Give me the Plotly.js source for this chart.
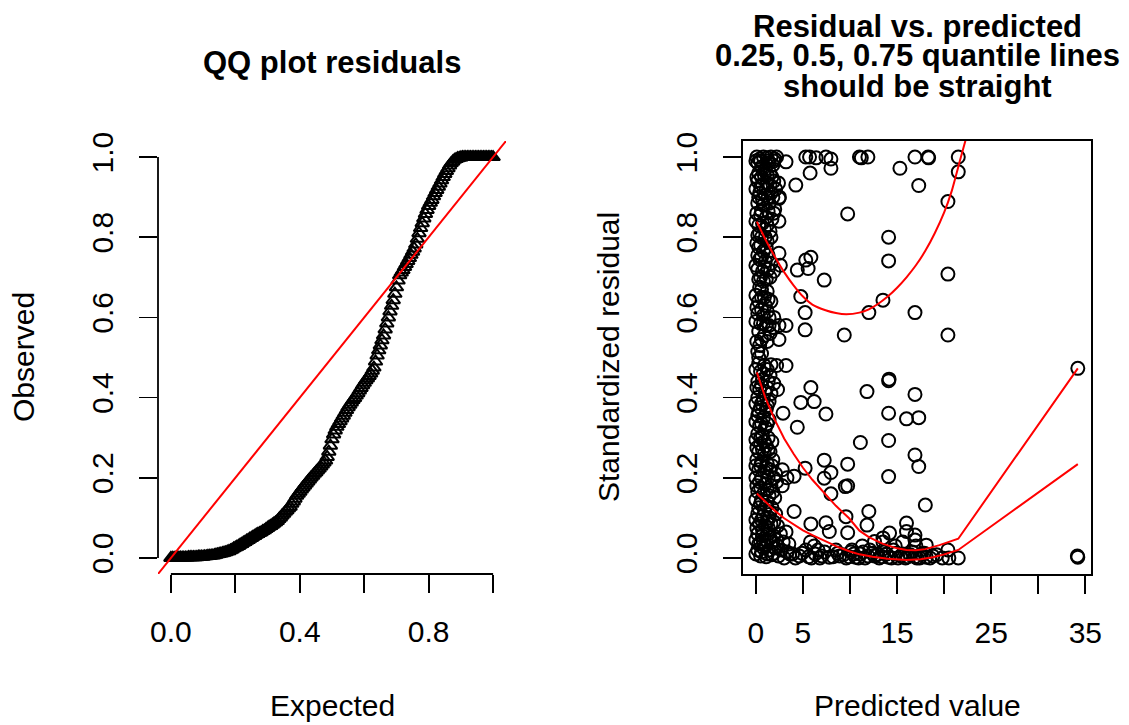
<!DOCTYPE html>
<html><head><meta charset="utf-8">
<script src="https://cdn.plot.ly/plotly-3.0.1.min.js"></script>
<style>html,body{margin:0;padding:0;background:#fff}#chart{width:1129px;height:725px}</style>
</head><body><div id="chart"></div>
<script>
// ---------- QQ plot data ----------
var qqExpected = [0.000,0.005,0.010,0.015,0.020,0.025,0.030,0.035,0.040,0.045,0.050,0.055,0.060,0.065,0.070,0.075,0.080,0.085,0.090,0.095,
0.100,0.105,0.110,0.115,0.120,0.125,0.130,0.135,0.140,0.145,0.150,0.155,0.160,0.165,0.170,0.175,0.180,0.185,0.190,0.195,
0.200,0.205,0.210,0.215,0.220,0.225,0.230,0.235,0.240,0.245,0.250,0.255,0.260,0.265,0.270,0.275,0.280,0.285,0.290,0.295,
0.300,0.305,0.310,0.315,0.320,0.325,0.330,0.335,0.340,0.345,0.350,0.355,0.360,0.365,0.370,0.375,0.380,0.385,0.390,0.395,
0.400,0.405,0.410,0.415,0.420,0.425,0.430,0.435,0.440,0.445,0.450,0.455,0.460,0.465,0.470,0.475,0.480,0.485,0.490,0.495,
0.500,0.505,0.510,0.515,0.520,0.525,0.530,0.535,0.540,0.545,0.550,0.555,0.560,0.565,0.570,0.575,0.580,0.585,0.590,0.595,
0.600,0.605,0.610,0.615,0.620,0.625,0.630,0.635,0.640,0.645,0.650,0.655,0.660,0.665,0.670,0.675,0.680,0.685,0.690,0.695,
0.700,0.705,0.710,0.715,0.720,0.725,0.730,0.735,0.740,0.745,0.750,0.755,0.760,0.765,0.770,0.775,0.780,0.785,0.790,0.795,
0.800,0.805,0.810,0.815,0.820,0.825,0.830,0.835,0.840,0.845,0.850,0.855,0.860,0.865,0.870,0.875,0.880,0.885,0.890,0.895,
0.900,0.905,0.910,0.915,0.920,0.925,0.930,0.935,0.940,0.945,0.950,0.955,0.960,0.965,0.970,0.975,0.980,0.985,0.990,0.995,1.000];
var qqObserved = [0.000,0.000,0.000,0.000,0.000,0.001,0.001,0.001,0.001,0.001,0.001,0.002,0.002,0.002,0.002,0.002,0.002,0.003,0.003,0.003,
0.003,0.004,0.004,0.005,0.005,0.006,0.006,0.007,0.008,0.009,0.010,0.011,0.012,0.013,0.014,0.016,0.017,0.019,0.021,0.024,
0.026,0.028,0.030,0.033,0.035,0.038,0.040,0.043,0.045,0.048,0.050,0.053,0.055,0.058,0.060,0.062,0.064,0.067,0.069,0.072,
0.075,0.078,0.080,0.083,0.086,0.089,0.092,0.097,0.101,0.106,0.110,0.115,0.119,0.124,0.128,0.135,0.141,0.148,0.155,0.160,
0.165,0.171,0.176,0.181,0.186,0.191,0.196,0.201,0.205,0.210,0.214,0.219,0.223,0.228,0.233,0.238,0.243,0.252,0.265,0.280,
0.296,0.308,0.318,0.327,0.334,0.341,0.348,0.355,0.362,0.369,0.376,0.382,0.388,0.394,0.399,0.405,0.411,0.418,0.424,0.431,
0.437,0.443,0.448,0.454,0.460,0.467,0.475,0.490,0.505,0.518,0.530,0.543,0.555,0.570,0.585,0.600,0.615,0.629,0.643,0.659,
0.675,0.692,0.705,0.712,0.718,0.726,0.733,0.741,0.748,0.756,0.764,0.772,0.782,0.796,0.810,0.823,0.835,0.847,0.858,0.868,
0.878,0.886,0.893,0.902,0.910,0.918,0.926,0.934,0.942,0.950,0.958,0.965,0.972,0.979,0.985,0.989,0.993,0.995,0.997,0.998,
0.999,1.000,1.000,1.000,1.000,1.000,1.000,1.000,1.000,1.000,1.000,1.000,1.000,1.000,1.000,1.000,1.000,1.000,1.000,1.000,1.000];
var qqLineEnds = [-0.04, 1.04];
var qqXTickVals = [0, 0.2, 0.4, 0.6, 0.8, 1.0];
var qqXTickText = ['0.0', '', '0.4', '', '0.8', ''];
var yTickVals = [0, 0.2, 0.4, 0.6, 0.8, 1.0];
var yTickText = ['0.0', '0.2', '0.4', '0.6', '0.8', '1.0'];

// ---------- Residual vs predicted data ----------
var predX = [0.1,0.4,0.8,1.2,1.6,2.0,0.2,0.6,1.0,1.4,1.8,0.3,0.9,1.5,0.2,0.7,1.2,1.9,0.4,1.0,1.6,0.2,0.8,1.4,2.0,2.5,2.4,0.5,1.1,1.7,0.3,0.9,1.5,2.45,0.6,1.2,0.2,0.3,0.8,2.45,0.4,1.0,1.6,0.2,0.7,1.3,1.9,2.6,0.5,1.1,0.6,1.2,0.9,0.3,1.0,1.6,0.2,0.8,1.4,0.5,1.1,1.8,2.45,3.2,0.3,0.9,1.5,2.45,0.4,0.6,0.3,0.3,0.9,1.6,2.2,3.2,0.5,1.2,0.2,0.7,1.3,1.9,0.4,1.0,1.6,2.3,0.2,0.8,1.4,0.5,1.1,0.2,0.8,1.4,0.4,1.0,0.2,0.7,1.3,0.5,1.1,1.7,0.3,0.9,1.5,0.1,0.6,1.2,1.8,0.3,0.9,1.5,2.1,2.8,3.3,4.06,0.4,1.0,1.6,2.2,0.2,0.8,1.4,2.0,0.5,1.1,1.7,0.2,0.8,1.4,2.1,0.4,1.0,1.6,2.3,0.2,0.7,1.3,1.9,2.6,3.2,0.5,1.1,1.8,0.2,0.8,1.4,2.0,2.7,3.3,0.5,1.1,1.7,2.4,3.0,3.6,
0.0,0.5,1.3,1.9,2.2,0.1,0.6,1.2,1.7,0.0,0.5,1.1,1.5,2.1,0.3,0.7,1.3,1.8,0.1,0.6,1.3,1.9,0.0,0.7,1.2,0.4,1.0,1.6,0.1,0.5,1.1,0.2,0.6,1.3,0.0,0.9,0.3,0.8,1.5,0.4,0.0,0.6,1.3,0.1,0.6,1.2,1.9,0.0,0.8,1.4,0.6,1.2,0.1,0.2,0.0,0.8,1.5,0.1,0.6,1.2,0.0,0.6,1.2,0.3,0.0,0.6,1.2,0.0,0.5,0.9,0.1,0.7,1.3,0.0,0.5,1.1,1.7,0.0,0.6,1.3,1.9,0.1,0.5,1.2,1.8,0.0,0.6,1.2,0.3,0.9,1.5,0.0,0.6,1.2,1.9,0.1,0.7,1.3,0.0,0.8,1.5,2.2,0.3,1.0,0.0,0.6,1.2,1.9,2.3,2.9,3.5,
3.2,5.3,5.7,6.4,5.76,7.44,7.97,7.97,11.0,11.2,11.9,15.3,16.9,18.3,18.35,21.5,21.5,4.24,17.3,20.4,9.75,14.1,14.1,20.4,2.45,4.4,5.3,5.84,5.55,7.26,4.77,5.23,5.23,9.39,12.0,13.5,16.9,20.4,
34.2,34.2,34.15,14.1,14.15,11.8,16.9,14.1,16.0,17.3,11.1,14.1,16.9,17.3,14.1,18.0,5.84,4.77,6.19,7.44,2.88,4.4,7.26,7.97,7.26,9.75,9.5,9.75,7.97,5.23,4.06,5.84,7.44,7.8,9.57,9.75,12.0,11.8,14.2,16.0,16.0,16.9,18.1,20.4,21.5,20.5,12.6,13.5,15.6,16.9,2.8,
3.9,4.6,5.3,5.8,5.6,6.3,6.8,7.3,7.8,8.5,8.9,9.6,10.1,10.6,11.1,11.6,12.1,12.6,13.1,13.6,14.1,14.6,15.1,15.6,16.1,16.6,17.1,17.6,18.1,18.8,13.5,10.2,11.3,14.8,17.0,6.2,
4.2,4.9,5.9,6.6,7.0,8.2,8.7,9.3,9.9,10.4,10.9,11.4,11.9,12.4,12.9,13.4,13.9,14.4,14.9,15.4,15.9,16.4,16.9,17.4,17.9,18.5,19.2,19.8];
var resY = [1.0,0.995,1.0,0.998,1.0,0.995,0.985,0.975,0.97,0.985,0.98,0.96,0.955,0.96,0.94,0.93,0.935,0.94,0.91,0.905,0.91,0.885,0.88,0.885,0.87,0.9,0.935,0.855,0.85,0.845,0.83,0.82,0.815,0.84,0.8,0.79,0.805,0.775,0.765,0.76,0.745,0.74,0.735,0.72,0.715,0.72,0.715,0.73,0.7,0.695,0.67,0.665,0.65,0.64,0.63,0.64,0.61,0.605,0.6,0.585,0.58,0.575,0.58,0.58,0.565,0.555,0.56,0.545,0.53,0.51,0.5,0.485,0.48,0.482,0.48,0.48,0.465,0.47,0.44,0.445,0.44,0.435,0.42,0.415,0.41,0.42,0.4,0.395,0.39,0.375,0.37,0.355,0.35,0.345,0.33,0.325,0.31,0.305,0.3,0.285,0.28,0.29,0.265,0.26,0.265,0.245,0.24,0.235,0.245,0.22,0.215,0.22,0.21,0.22,0.2,0.204,0.19,0.185,0.18,0.19,0.165,0.16,0.155,0.15,0.135,0.13,0.125,0.11,0.105,0.1,0.11,0.085,0.08,0.085,0.08,0.06,0.055,0.06,0.055,0.06,0.065,0.04,0.045,0.04,0.02,0.025,0.02,0.025,0.02,0.015,0.005,0.003,0.008,0.005,0.0,0.01,
0.99,0.99,0.99,0.99,1.0,0.95,0.95,0.955,0.95,0.92,0.925,0.92,0.93,0.92,0.9,0.895,0.9,0.9,0.86,0.865,0.865,0.86,0.84,0.835,0.83,0.81,0.8,0.8,0.785,0.78,0.775,0.755,0.75,0.755,0.73,0.725,0.695,0.69,0.7,0.675,0.655,0.65,0.645,0.625,0.62,0.615,0.6,0.59,0.585,0.58,0.545,0.54,0.54,0.515,0.47,0.46,0.455,0.425,0.43,0.425,0.385,0.385,0.38,0.365,0.34,0.335,0.335,0.295,0.3,0.29,0.275,0.27,0.27,0.23,0.23,0.225,0.23,0.2,0.2,0.2,0.2,0.18,0.175,0.17,0.165,0.145,0.145,0.14,0.125,0.12,0.115,0.095,0.095,0.09,0.09,0.075,0.07,0.075,0.045,0.04,0.05,0.045,0.035,0.03,0.01,0.015,0.01,0.012,0.03,0.04,0.035,
0.988,1.0,1.0,0.998,0.96,1.0,0.995,0.972,1.0,0.998,1.0,0.972,1.0,1.0,0.998,1.0,0.963,0.93,0.929,0.889,0.858,0.8,0.741,0.708,0.897,0.718,0.743,0.75,0.722,0.693,0.652,0.612,0.569,0.556,0.612,0.643,0.612,0.556,
0.473,0.002,0.005,0.442,0.446,0.415,0.408,0.361,0.347,0.35,0.288,0.293,0.257,0.228,0.203,0.132,0.425,0.388,0.39,0.359,0.361,0.326,0.244,0.213,0.199,0.234,0.178,0.18,0.16,0.224,0.116,0.085,0.088,0.066,0.103,0.063,0.116,0.082,0.062,0.087,0.066,0.057,0.032,0.02,0.0,0.0,0.041,0.05,0.04,0.045,0.18,
0.01,0.005,0.02,0.04,0.003,0.01,0.0,0.015,0.002,0.02,0.005,0.0,0.015,0.002,0.01,0.0,0.02,0.005,0.0,0.015,0.002,0.02,0.0,0.01,0.003,0.015,0.0,0.01,0.002,0.005,0.04,0.02,0.03,0.03,0.03,0.03,
0.0,0.012,0.0,0.02,0.005,0.003,0.012,0.008,0.003,0.01,0.0,0.015,0.005,0.012,0.008,0.003,0.01,0.0,0.012,0.005,0.0,0.008,0.003,0.0,0.012,0.0,0.008,0.0];

var q25X = [0.1,1,2,3,4,5,6,7.4,8.86,10,11,12.4,14,16,17.5,18.8,20,21.5,34.2];
var q25Y = [0.161,0.14,0.118,0.099,0.083,0.069,0.057,0.042,0.026,0.016,0.009,0.003,-0.002,-0.005,-0.003,0.002,0.009,0.02,0.234];
var q50X = [0.1,1,2,3,4,5,6,7.4,8.5,9.9,11,12,13.5,15,16,17,18,19.5,20.5,21.5,34.2];
var q50Y = [0.463,0.4,0.345,0.298,0.26,0.225,0.195,0.158,0.13,0.099,0.068,0.052,0.035,0.024,0.02,0.019,0.022,0.032,0.04,0.048,0.473];
var q75X = [0.1,1,2,3,4,5,6,7.4,8.5,9.6,11,12,13,14,15,16,17,18,19,20,20.8,21.7,22.6];
var q75Y = [0.839,0.795,0.752,0.713,0.68,0.652,0.632,0.618,0.611,0.608,0.612,0.62,0.634,0.652,0.674,0.70,0.73,0.766,0.81,0.862,0.915,0.993,1.07];
var rvXTickVals = [0,5,10,15,20,25,30,35];
var rvXTickText = ['0','5','','15','','25','','35'];

// ---------- layout helpers ----------
var W = 1129, H = 725;
function px(x){ return x / W; }
function py(y){ return 1 - y / H; }
var FONT = 'Liberation Sans, Arial, Helvetica, sans-serif';
var TF = {family: FONT, size: 30, color: '#000'};
var LW = 1.8;

var commonAxis = {
  ticks: 'outside', ticklen: 18, tickwidth: LW, tickcolor: '#000',
  showgrid: false, zeroline: false, tickfont: TF, fixedrange: true
};

var traces = [
  {x: qqExpected, y: qqObserved, xaxis: 'x', yaxis: 'y', type: 'scatter', mode: 'markers',
   marker: {symbol: 'triangle-up-open', size: 12, color: '#000', line: {color: '#000', width: 2}},
   hoverinfo: 'skip'},
  {x: qqLineEnds, y: qqLineEnds, xaxis: 'x', yaxis: 'y', type: 'scatter', mode: 'lines',
   line: {color: '#ff0000', width: 2}, hoverinfo: 'skip'},
  {x: predX, y: resY, xaxis: 'x2', yaxis: 'y2', type: 'scatter', mode: 'markers',
   marker: {symbol: 'circle-open', size: 13, color: '#000', line: {color: '#000', width: 2}},
   hoverinfo: 'skip'},
  {x: q25X, y: q25Y, xaxis: 'x2', yaxis: 'y2', type: 'scatter', mode: 'lines',
   line: {color: '#ff0000', width: 2}, hoverinfo: 'skip'},
  {x: q50X, y: q50Y, xaxis: 'x2', yaxis: 'y2', type: 'scatter', mode: 'lines',
   line: {color: '#ff0000', width: 2}, hoverinfo: 'skip'},
  {x: q75X, y: q75Y, xaxis: 'x2', yaxis: 'y2', type: 'scatter', mode: 'lines',
   line: {color: '#ff0000', width: 2, shape: 'spline', smoothing: 0.5}, hoverinfo: 'skip'}
];

var yDom = [py(574), py(141)];

var layout = {
  width: W, height: H,
  margin: {l: 0, r: 0, t: 0, b: 0, pad: 0},
  paper_bgcolor: '#fff', plot_bgcolor: 'rgba(0,0,0,0)',
  showlegend: false,
  font: {family: FONT, size: 30, color: '#000'},
  xaxis: Object.assign({}, commonAxis, {domain: [px(158), px(506)], range: [-0.04, 1.04],
    tickmode: 'array', tickvals: qqXTickVals, ticktext: qqXTickText, showline: false, anchor: 'y',
    ticklabelstandoff: 13}),
  yaxis: Object.assign({}, commonAxis, {domain: yDom, range: [-0.04, 1.04],
    tickmode: 'array', tickvals: yTickVals, ticktext: yTickText, tickangle: -90, showline: false, anchor: 'x',
    ticklabelstandoff: 14}),
  xaxis2: Object.assign({}, commonAxis, {domain: [px(743), px(1091)], range: [-1.37, 35.6],
    tickmode: 'array', tickvals: rvXTickVals, ticktext: rvXTickText,
    showline: true, mirror: true, linecolor: '#000', linewidth: LW, anchor: 'y2',
    ticklabelstandoff: 13}),
  yaxis2: Object.assign({}, commonAxis, {domain: yDom, range: [-0.04, 1.04],
    tickmode: 'array', tickvals: yTickVals, ticktext: yTickText, tickangle: -90,
    showline: true, mirror: true, linecolor: '#000', linewidth: LW, anchor: 'x2',
    ticklabelstandoff: 14}),
  shapes: [
    {type: 'line', xref: 'x', yref: 'y domain', x0: qqXTickVals[0], x1: qqXTickVals[qqXTickVals.length - 1],
     y0: 0, y1: 0, line: {color: '#000', width: LW}},
    {type: 'line', xref: 'x domain', yref: 'y', x0: 0, x1: 0, y0: yTickVals[0], y1: yTickVals[yTickVals.length - 1],
     line: {color: '#000', width: LW}}
  ],
  annotations: [
    {text: '<b>QQ plot residuals</b>', x: px(332), y: py(63), xref: 'paper', yref: 'paper',
     xanchor: 'center', yanchor: 'middle', showarrow: false, font: {family: FONT, size: 31, color: '#000'}},
    {text: '<b>Residual vs. predicted</b>', x: px(917), y: py(26), xref: 'paper', yref: 'paper',
     xanchor: 'center', yanchor: 'middle', showarrow: false, font: {family: FONT, size: 31, color: '#000'}},
    {text: '<b>0.25, 0.5, 0.75 quantile lines</b>', x: px(917), y: py(56), xref: 'paper', yref: 'paper',
     xanchor: 'center', yanchor: 'middle', showarrow: false, font: {family: FONT, size: 31, color: '#000'}},
    {text: '<b>should be straight</b>', x: px(917), y: py(86), xref: 'paper', yref: 'paper',
     xanchor: 'center', yanchor: 'middle', showarrow: false, font: {family: FONT, size: 31, color: '#000'}},
    {text: 'Expected', x: px(332), y: py(705), xref: 'paper', yref: 'paper',
     xanchor: 'center', yanchor: 'middle', showarrow: false, font: TF},
    {text: 'Predicted value', x: px(917), y: py(705), xref: 'paper', yref: 'paper',
     xanchor: 'center', yanchor: 'middle', showarrow: false, font: TF},
    {text: 'Observed', x: px(23.5), y: py(357.5), xref: 'paper', yref: 'paper', textangle: -90,
     xanchor: 'center', yanchor: 'middle', showarrow: false, font: TF},
    {text: 'Standardized residual', x: px(608.5), y: py(357.5), xref: 'paper', yref: 'paper', textangle: -90,
     xanchor: 'center', yanchor: 'middle', showarrow: false, font: TF}
  ]
};

Plotly.newPlot('chart', traces, layout, {staticPlot: true, displayModeBar: false});
</script></body></html>
